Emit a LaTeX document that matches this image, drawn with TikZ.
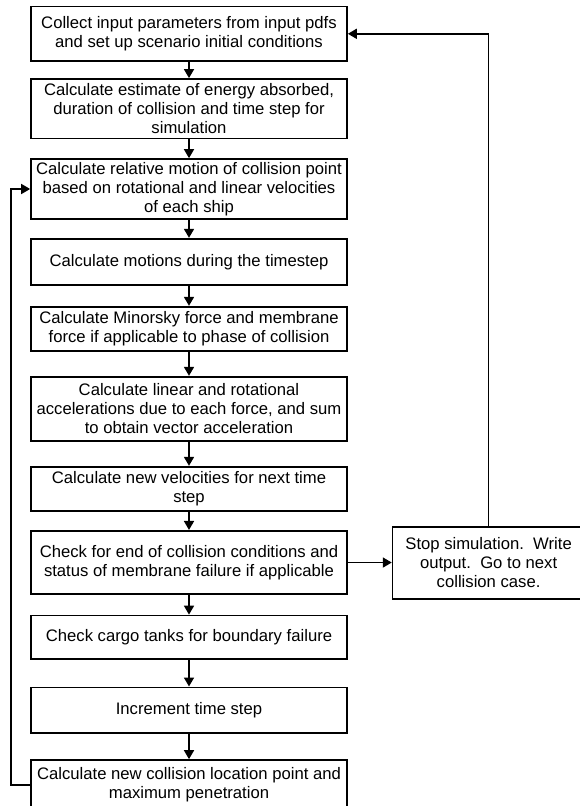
\documentclass[tikz,border=0pt]{standalone}
\usepackage{fontspec}
\setmainfont{Liberation Sans}
\usetikzlibrary{arrows.meta}
\tikzset{
  stepbox/.style={draw, line width=1.25pt, minimum width=237pt, inner sep=1pt,
                  align=center, font=\fontsize{12.5pt}{14.2pt}\selectfont},
  flow/.style={line width=1.25pt, -{Triangle[length=6.75pt,width=7.5pt]}}
}
\begin{document}
\begin{tikzpicture}[x=1pt, y=-1pt]
 \useasboundingbox (0,0) rectangle (434.25,604.5);
 % main column of steps
 \node[stepbox, minimum height=40.7pt] (collect)   at (141.75, 25.35)
   {Collect input parameters from input pdfs\\and set up scenario initial conditions};
 \node[stepbox, minimum height=44.8pt] (estimate)  at (141.75, 81.6)
   {Calculate estimate of energy absorbed,\\duration of collision and time step for\\simulation};
 \node[stepbox, minimum height=45pt]   (relmotion) at (141.75,141.75)
   {Calculate relative motion of collision point\\based on rotational and linear velocities\\of each ship};
 \node[stepbox, minimum height=34.7pt] (motions)   at (141.75,196.35)
   {Calculate motions during the timestep};
 \node[stepbox, minimum height=33pt]   (forces)    at (141.75,246.5)
   {Calculate Minorsky force and membrane\\force if applicable to phase of collision};
 \node[stepbox, minimum height=48.2pt] (accel)     at (141.75,306.6)
   {Calculate linear and rotational\\accelerations due to each force, and sum\\to obtain vector acceleration};
 \node[stepbox, minimum height=33.2pt] (velocity)  at (141.75,366.6)
   {Calculate new velocities for next time\\step};
 \node[stepbox, minimum height=47.6pt] (check)     at (141.75,421.9)
   {Check for end of collision conditions and\\status of membrane failure if applicable};
 \node[stepbox, minimum height=32.6pt] (tanks)     at (141.75,477.9)
   {Check cargo tanks for boundary failure};
 \node[stepbox, minimum height=34pt]   (increment) at (141.75,532.5)
   {Increment time step};
 \node[stepbox, minimum height=37pt]   (newloc)    at (141.75,588.5)
   {Calculate new collision location point and\\maximum penetration};
 % exit box
 \node[stepbox, minimum width=144pt, minimum height=54.2pt] (stop) at (366.45,422.1)
   {Stop simulation.\ \ Write\\output.\ \ Go to next\\collision case.};

 \draw[flow] (collect) -- (estimate);
 \draw[flow] (estimate) -- (relmotion);
 \draw[flow] (relmotion) -- (motions);
 \draw[flow] (motions) -- (forces);
 \draw[flow] (forces) -- (accel);
 \draw[flow] (accel) -- (velocity);
 \draw[flow] (velocity) -- (check);
 \draw[flow] (check) -- (tanks);
 \draw[flow] (tanks) -- (increment);
 \draw[flow] (increment) -- (newloc);
 \draw[flow] (check.east) -- (check.east -| stop.west);
 \draw[flow] (stop.north) |- (collect.east);
 \draw[flow] (newloc.west) -- ++(-14.5,0) |- (relmotion.west);
\end{tikzpicture}
\end{document}
